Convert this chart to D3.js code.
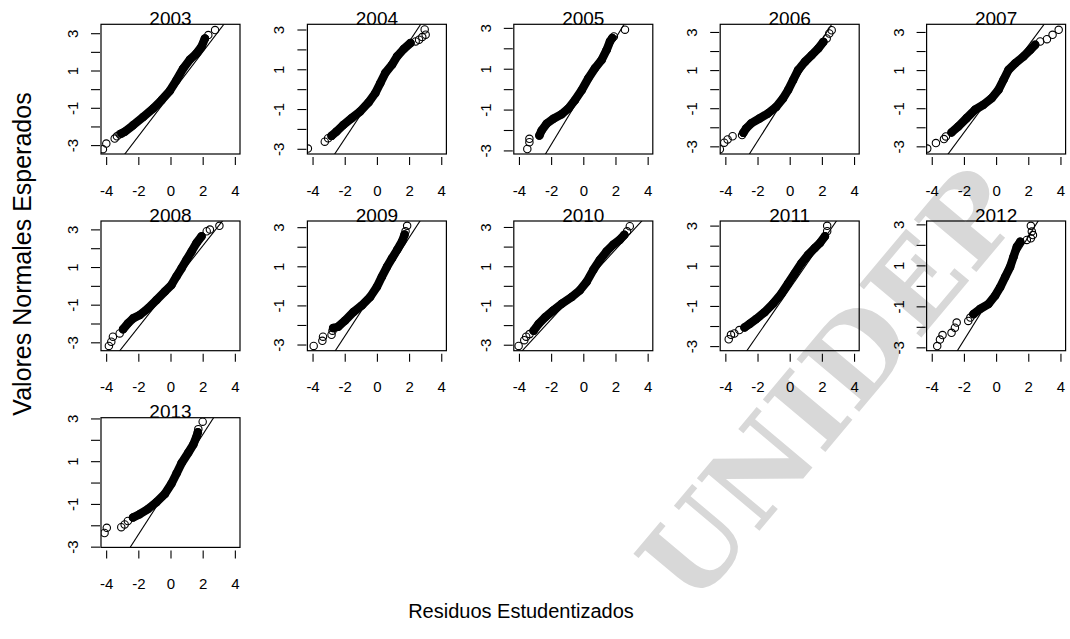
<!DOCTYPE html>
<html>
<head>
<meta charset="utf-8">
<script src="https://cdn.jsdelivr.net/npm/d3@7"></script>
<style>
  body { margin: 0; background: #fff; }
  svg text { font-family: "Liberation Sans", Arial, sans-serif; fill: #000; }
</style>
</head>
<body>
<div id="chart"></div>
<script>
// years shown, one panel each (5 per row)
const years = ["2003", "2004", "2005", "2006", "2007", "2008", "2009", "2010", "2011", "2012", "2013"];

// largest expected normal value of each panel (sets the y range)
const yMax = [3.22, 3.02, 2.94, 3.15, 3.15, 3.19, 3.07, 3.06, 2.99, 2.93, 2.81];

// reference line y = slope * x + intercept, per year
const lineSlope = [1.13, 1.22, 1.30, 1.33, 1.14, 1.08, 1.26, 0.89, 1.16, 1.26, 1.17];
const lineIntercept = [-0.27, -0.06, -0.12, -0.07, 0.00, -0.04, -0.06, 0.07, -0.14, -0.13, -0.10];

const xLim = [-4, 4];
const xTicks = [-4, -2, 0, 2, 4];
const yTicks = [-3, -2, -1, 0, 1, 2, 3];
const yTickLabels = ["-3", "", "-1", "", "1", "", "3"];

// [studentized residual, expected normal value]
// dense part of each curve
const band2003 = [[-3.05,-2.38],[-2.85,-2.29],[-2.33,-1.94],[-1.70,-1.49],[-1.08,-1.04],[-0.56,-0.59],[-0.04,-0.09],[0.37,0.48],[0.79,1.11],[1.21,1.59],[1.62,1.92],[1.93,2.28],[2.14,2.72]];
const band2004 = [[-2.82,-2.35],[-2.51,-2.13],[-2.09,-1.80],[-1.57,-1.46],[-1.05,-1.13],[-0.52,-0.67],[-0.10,-0.20],[0.21,0.30],[0.52,0.81],[0.94,1.23],[1.26,1.65],[1.67,2.02],[2.09,2.32]];
const band2005 = [[-2.73,-2.27],[-2.59,-2.02],[-2.28,-1.69],[-1.86,-1.45],[-1.35,-1.23],[-0.93,-0.95],[-0.52,-0.54],[-0.10,-0.05],[0.31,0.53],[0.72,1.02],[1.14,1.43],[1.45,1.92],[1.66,2.34],[1.80,2.50]];
const band2006 = [[-2.88,-2.29],[-2.71,-2.06],[-2.40,-1.80],[-1.88,-1.54],[-1.36,-1.28],[-0.84,-0.93],[-0.42,-0.49],[-0.10,-0.05],[0.21,0.47],[0.52,1.00],[0.94,1.43],[1.36,1.78],[1.77,2.13],[2.09,2.48]];
const band2007 = [[-2.77,-2.27],[-2.35,-1.96],[-1.83,-1.52],[-1.31,-1.08],[-0.79,-0.82],[-0.27,-0.47],[0.15,-0.03],[0.46,0.49],[0.77,1.01],[1.19,1.36],[1.70,1.71],[2.12,2.06],[2.43,2.33]];
const band2008 = [[-2.95,-2.31],[-2.64,-1.99],[-2.33,-1.73],[-1.91,-1.55],[-1.39,-1.19],[-0.87,-0.75],[-0.35,-0.30],[0.06,0.05],[0.37,0.50],[0.69,0.94],[1.00,1.39],[1.31,1.83],[1.62,2.28],[1.93,2.63]];
const band2009 = [[-2.72,-2.16],[-2.41,-2.09],[-1.99,-1.78],[-1.46,-1.34],[-0.94,-1.00],[-0.42,-0.57],[0.00,-0.05],[0.31,0.47],[0.63,0.98],[0.94,1.41],[1.26,1.84],[1.57,2.28],[1.72,2.62]];
const band2010 = [[-3.09,-2.29],[-2.78,-1.94],[-2.37,-1.60],[-1.86,-1.25],[-1.34,-0.91],[-0.72,-0.57],[-0.21,-0.22],[0.21,0.21],[0.62,0.81],[1.03,1.32],[1.44,1.75],[1.86,2.10],[2.27,2.35],[2.55,2.60]];
const band2011 = [[-2.81,-2.07],[-2.50,-1.90],[-2.08,-1.65],[-1.56,-1.31],[-1.04,-0.89],[-0.52,-0.39],[-0.10,0.12],[0.31,0.62],[0.73,1.13],[1.15,1.55],[1.56,1.88],[1.88,2.13],[2.19,2.47]];
const band2012 = [[-1.41,-1.38],[-1.00,-1.13],[-0.48,-0.89],[-0.06,-0.48],[0.25,-0.07],[0.56,0.43],[0.87,0.92],[1.08,1.41],[1.29,1.91],[1.50,2.15]];
const band2013 = [[-2.33,-1.64],[-1.92,-1.48],[-1.40,-1.24],[-0.88,-0.92],[-0.35,-0.53],[0.06,-0.05],[0.38,0.43],[0.69,0.91],[1.10,1.39],[1.42,1.78],[1.63,2.18],[1.70,2.35]];

// loose points at both ends
const tail2003 = [[-4.20,-3.22],[-3.99,-2.92],[-3.47,-2.65],[-3.33,-2.53],[-3.16,-2.42],[2.35,2.90],[2.77,3.17]];
const tail2004 = [[-4.29,-2.99],[-3.24,-2.64],[-3.03,-2.47],[2.41,2.40],[2.62,2.49],[2.82,2.62],[3.03,2.74],[2.97,3.00]];
const tail2005 = [[-3.48,-2.93],[-3.35,-2.60],[-3.35,-2.43],[1.90,2.58],[2.59,2.91]];
const tail2006 = [[-4.34,-3.15],[-4.07,-2.81],[-3.86,-2.64],[-3.55,-2.47],[-2.96,-2.41],[2.30,2.66],[2.46,2.92],[2.61,3.09]];
const tail2007 = [[-4.28,-3.12],[-3.74,-2.83],[-3.24,-2.62],[-3.12,-2.48],[2.74,2.50],[3.16,2.62],[3.51,2.85],[3.89,3.11]];
const tail2008 = [[-3.83,-3.19],[-3.68,-2.97],[-3.58,-2.70],[-3.16,-2.53],[2.25,2.90],[2.45,2.99],[3.04,3.19]];
const tail2009 = [[-3.93,-3.07],[-3.39,-2.81],[-3.35,-2.60],[-2.82,-2.50],[-2.76,-2.29],[1.78,2.79],[1.88,3.07]];
const tail2010 = [[-4.02,-3.06],[-3.67,-2.77],[-3.55,-2.59],[-3.34,-2.46],[2.72,2.78],[2.89,3.04]];
const tail2011 = [[-3.79,-2.66],[-3.65,-2.44],[-3.44,-2.37],[-3.13,-2.20],[2.33,2.72],[2.33,2.99]];
const tail2012 = [[-3.66,-2.94],[-3.49,-2.62],[-3.33,-2.40],[-2.77,-2.29],[-2.56,-2.04],[-2.45,-1.79],[-1.73,-1.71],[-1.60,-1.55],[1.91,2.24],[2.16,2.32],[2.29,2.48],[2.22,2.65],[2.16,2.93]];
const tail2013 = [[-4.10,-2.36],[-3.96,-2.12],[-3.06,-2.09],[-2.85,-1.96],[-2.65,-1.80],[1.73,2.50],[2.00,2.85]];

const bands = [band2003, band2004, band2005, band2006, band2007, band2008, band2009, band2010, band2011, band2012, band2013];
const tails = [tail2003, tail2004, tail2005, tail2006, tail2007, tail2008, tail2009, tail2010, tail2011, tail2012, tail2013];

const width = 1070, height = 639;
const boxW = 139, boxH = 129.7;
const left0 = 101, colStep = 206.4;
const top0 = 24.3, rowStep = 196.7;

const svg = d3.select("#chart").append("svg")
    .attr("width", width)
    .attr("height", height);

// watermark behind the panels
svg.append("text")
    .attr("transform", "translate(830,385) rotate(-50)")
    .attr("text-anchor", "middle")
    .attr("dominant-baseline", "central")
    .style("font-family", "'DejaVu Serif', 'Liberation Serif', serif")
    .style("font-weight", "bold")
    .style("font-size", "112px")
    .style("fill", "#d8d8d8")
    .text("UNIDEP");

const ext = (xLim[1] - xLim[0]) * 0.04;

years.forEach(function(yr, i) {
    const c = i % 5, r = Math.floor(i / 5);
    const L = left0 + colStep * c;
    const T = top0 + rowStep * r;
    const B = T + boxH;

    const x = d3.scaleLinear()
        .domain([xLim[0] - ext, xLim[1] + ext])
        .range([L, L + boxW]);
    const y = d3.scaleLinear()
        .domain([-yMax[i] * 1.08, yMax[i] * 1.08])
        .range([B, T]);

    const g = svg.append("g");

    svg.append("clipPath")
        .attr("id", "clip" + yr)
      .append("rect")
        .attr("x", L).attr("y", T)
        .attr("width", boxW).attr("height", boxH);

    const plot = g.append("g").attr("clip-path", "url(#clip" + yr + ")");

    // reference line
    const xd = x.domain();
    plot.append("line")
        .attr("x1", x(xd[0])).attr("y1", y(lineSlope[i] * xd[0] + lineIntercept[i]))
        .attr("x2", x(xd[1])).attr("y2", y(lineSlope[i] * xd[1] + lineIntercept[i]))
        .attr("stroke", "#000")
        .attr("stroke-width", 1.1);

    // dense run of overlapping points
    plot.append("path")
        .datum(bands[i])
        .attr("d", d3.line().x(d => x(d[0])).y(d => y(d[1])))
        .attr("fill", "none")
        .attr("stroke", "#000")
        .attr("stroke-width", 8.5)
        .attr("stroke-linecap", "round")
        .attr("stroke-linejoin", "round");

    plot.selectAll(".pt")
        .data(bands[i].concat(tails[i]))
        .enter().append("circle")
        .attr("class", "pt")
        .attr("cx", d => x(d[0]))
        .attr("cy", d => y(d[1]))
        .attr("r", 3.7)
        .attr("fill", "none")
        .attr("stroke", "#000")
        .attr("stroke-width", 1.1);

    // box
    g.append("rect")
        .attr("x", L).attr("y", T)
        .attr("width", boxW).attr("height", boxH)
        .attr("fill", "none")
        .attr("stroke", "#000")
        .attr("stroke-width", 1.2);

    // title
    g.append("text")
        .attr("x", L + boxW / 2)
        .attr("y", T + 0.5)
        .attr("text-anchor", "middle")
        .style("font-size", "19px")
        .text(yr);

    // x axis
    const xa = g.append("g")
        .attr("transform", "translate(0," + (B + 3) + ")")
        .call(d3.axisBottom(x).tickValues(xTicks).tickSize(8).tickPadding(20).tickFormat(d => String(d)));
    xa.select(".domain").remove();
    xa.selectAll("line").attr("stroke-width", 1.1);
    xa.selectAll("text").style("font-size", "15px").attr("font-family", null);

    // y axis, labels turned like R
    const ya = g.append("g")
        .attr("transform", "translate(" + (L - 1) + ",0)")
        .call(d3.axisLeft(y).tickValues(yTicks).tickSize(9).tickFormat((d, k) => yTickLabels[k]));
    ya.select(".domain").remove();
    ya.selectAll("line").attr("stroke-width", 1.1);
    ya.selectAll("text")
        .attr("x", null).attr("dy", null)
        .attr("text-anchor", "middle")
        .attr("transform", "translate(-22,0) rotate(-90)")
        .style("font-size", "15px");
});

// outer labels
svg.append("text")
    .attr("transform", "translate(22,254) rotate(-90)")
    .attr("text-anchor", "middle")
    .attr("dominant-baseline", "central")
    .style("font-size", "25px")
    .text("Valores Normales Esperados");

svg.append("text")
    .attr("x", 521)
    .attr("y", 618)
    .attr("text-anchor", "middle")
    .style("font-size", "20px")
    .text("Residuos Estudentizados");
</script>
</body>
</html>
